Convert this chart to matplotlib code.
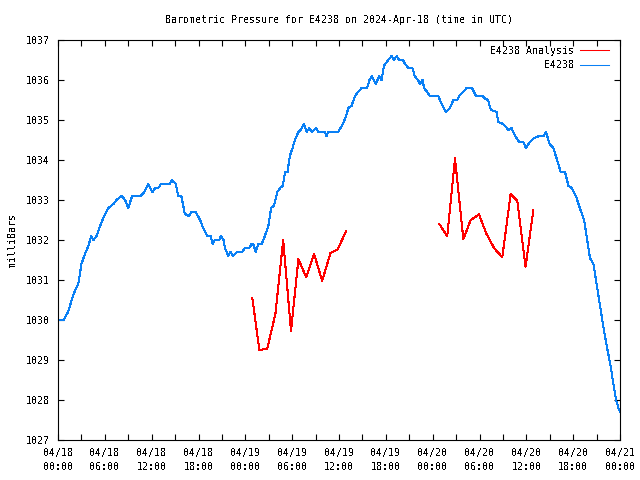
import numpy as np
import pandas as pd
import matplotlib
matplotlib.use('Agg')
import matplotlib.pyplot as plt
import matplotlib.dates as mdates

plt.rcParams['font.family'] = ['DejaVu Sans Mono']
plt.rcParams['font.size'] = 7.2
plt.rcParams['text.antialiased'] = False

start = pd.Timestamp('2024-04-18 00:00')

# E4238 station pressure (hours since start, mbar)
e4238_hours = [0, 0.7, 1.3, 1.75, 2.2, 2.6, 3.0, 3.45, 3.9, 4.25, 4.55, 4.95, 5.4, 5.8, 6.45,
               7.1, 7.5, 8.15, 8.6, 9.0, 9.5, 10.6, 11.05, 11.55, 12.1, 12.45, 12.85, 13.2,
               14.35, 14.55, 15.1, 15.4, 15.8, 16.25, 16.8, 17.1, 17.65, 18.2, 18.6, 19.1,
               19.55, 19.8, 20.1, 20.65, 20.85, 21.2, 21.4, 21.8, 22.1, 22.4, 22.9, 23.6,
               23.95, 24.5, 24.8, 25.0, 25.35, 25.65, 26.1, 26.5, 26.95, 27.3, 27.65, 28.1,
               28.45, 28.8, 29.1, 29.4, 29.7, 30.05, 30.35, 30.8, 31.1, 31.5, 31.85, 32.2,
               32.5, 33.05, 33.35, 34.2, 34.4, 34.6, 35.9, 36.5, 36.9, 37.2, 37.6, 38.05,
               38.45, 38.9, 39.6, 39.9, 40.2, 40.7, 41.15, 41.45, 41.75, 42.3, 42.75, 43.0,
               43.4, 43.7, 44.2, 44.45, 44.9, 45.4, 45.7, 46.1, 46.4, 46.7, 46.9, 47.3,
               47.65, 48.7, 49.15, 49.7, 50.0, 50.2, 50.65, 51.15, 51.4, 51.9, 52.35, 53.05,
               53.55, 54.4, 54.6, 55.1, 55.3, 55.5, 56.2, 56.4, 57.05, 57.7, 58.1, 58.55,
               59.1, 59.6, 59.95, 60.45, 61.0, 61.65, 62.2, 62.5, 63.0, 63.45, 63.95, 64.4,
               64.95, 65.4, 65.8, 66.35, 66.85, 67.4, 67.75, 68.15, 68.6, 69.0, 69.45, 69.85,
               70.3, 70.8, 71.15, 71.5, 71.8, 72.0]
e4238_mb = [1030.0, 1030.0, 1030.2, 1030.5, 1030.75, 1030.9, 1031.4, 1031.65, 1031.85, 1032.1,
            1032.0, 1032.1, 1032.35, 1032.55, 1032.8, 1032.9, 1033.0, 1033.1, 1033.0, 1032.8,
            1033.1, 1033.1, 1033.2, 1033.4, 1033.2, 1033.3, 1033.3, 1033.4, 1033.4, 1033.5,
            1033.4, 1033.1, 1033.1, 1032.65, 1032.6, 1032.7, 1032.7, 1032.5, 1032.3, 1032.1,
            1032.1, 1031.9, 1032.0, 1032.0, 1032.1, 1032.0, 1031.8, 1031.6, 1031.7, 1031.6,
            1031.7, 1031.7, 1031.8, 1031.8, 1031.9, 1031.9, 1031.7, 1031.9, 1031.9, 1032.1,
            1032.35, 1032.8, 1032.85, 1033.2, 1033.3, 1033.35, 1033.7, 1033.7, 1034.1, 1034.3,
            1034.5, 1034.7, 1034.75, 1034.9, 1034.7, 1034.8, 1034.7, 1034.8, 1034.7, 1034.7,
            1034.6, 1034.7, 1034.7, 1034.9, 1035.1, 1035.3, 1035.35, 1035.6, 1035.7, 1035.8,
            1035.8, 1036.0, 1036.1, 1035.9, 1036.1, 1036.0, 1036.35, 1036.5, 1036.6, 1036.5,
            1036.6, 1036.5, 1036.5, 1036.4, 1036.3, 1036.3, 1036.1, 1036.0, 1035.9, 1036.0,
            1035.8, 1035.7, 1035.6, 1035.6, 1035.4, 1035.2, 1035.25, 1035.3, 1035.5, 1035.5,
            1035.6, 1035.7, 1035.8, 1035.8, 1035.6, 1035.6, 1035.55, 1035.5, 1035.35, 1035.25,
            1035.2, 1034.95, 1034.9, 1034.75, 1034.8, 1034.6, 1034.45, 1034.45, 1034.3, 1034.45,
            1034.55, 1034.6, 1034.6, 1034.7, 1034.4, 1034.3, 1034.0, 1033.7, 1033.7, 1033.35,
            1033.3, 1033.1, 1032.8, 1032.5, 1032.05, 1031.55, 1031.4, 1030.9, 1030.35, 1029.85,
            1029.35, 1028.85, 1028.4, 1028.0, 1027.8, 1027.7]

# analysis values, two runs
anal1_hours = [24.9, 25.8, 26.8, 27.85, 28.85, 29.85, 30.8, 31.8, 32.8, 33.85, 34.9, 35.85, 36.9]
anal1_mb = [1030.54, 1029.25, 1029.28, 1030.15, 1032.0, 1029.73, 1031.52, 1031.07, 1031.65,
            1030.98, 1031.67, 1031.77, 1032.22]
anal2_hours = [48.85, 49.87, 50.86, 51.93, 52.87, 53.93, 54.9, 55.9, 56.92, 57.99, 58.84, 59.9, 60.9]
anal2_mb = [1032.4, 1032.1, 1034.04, 1032.02, 1032.5, 1032.64, 1032.15, 1031.79, 1031.57,
            1033.15, 1032.98, 1031.33, 1032.75]


def to_time(hours):
    return start + pd.to_timedelta(np.array(hours), unit='h')


fig = plt.figure(figsize=(6.4, 4.8), dpi=100)
ax = fig.add_axes([58 / 640, 40 / 480, 562 / 640, 400 / 480])

# gap between the two analysis runs -> NaN so the line breaks
red_t = list(to_time(anal1_hours)) + [start + pd.Timedelta(hours=42)] + list(to_time(anal2_hours))
red_v = anal1_mb + [np.nan] + anal2_mb

l1, = ax.plot(red_t, red_v, color='#ff0000', lw=0.75, antialiased=False)
l2, = ax.plot(to_time(e4238_hours), e4238_mb, color='#0a80f5', lw=0.75, antialiased=False)

ax.set_xlim(start, start + pd.Timedelta(hours=72))
ax.set_ylim(1027, 1037)
ax.set_yticks(range(1027, 1038))

ax.xaxis.set_major_locator(mdates.HourLocator(byhour=range(0, 24, 6)))
ax.xaxis.set_minor_locator(mdates.HourLocator(byhour=range(0, 24, 3)))
ax.xaxis.set_major_formatter(mdates.DateFormatter('%m/%d\n%H:%M'))

ax.tick_params(which='both', direction='in', top=True, right=True,
               length=4, width=0.8, color='black')
ax.tick_params(axis='x', pad=6)
ax.tick_params(axis='y', pad=6)
for s in ax.spines.values():
    s.set_linewidth(0.8)

ax.set_title('Barometric Pressure for E4238 on 2024-Apr-18 (time in UTC)', fontsize=7.2, pad=12)
ax.set_ylabel('milliBars', labelpad=6)

ax.legend([l1, l2], ['E4238 Analysis', 'E4238'], loc='upper right', frameon=False,
          bbox_to_anchor=(0.993, 1.003),
          markerfirst=False, handlelength=2.9, handletextpad=0.6,
          labelspacing=0.45, borderaxespad=0.6, borderpad=0.1)

fig.canvas.draw()
for t in ax.xaxis.get_major_ticks():
    t.label1.set_linespacing(1.5)

fig.savefig('out.png', dpi=100)
